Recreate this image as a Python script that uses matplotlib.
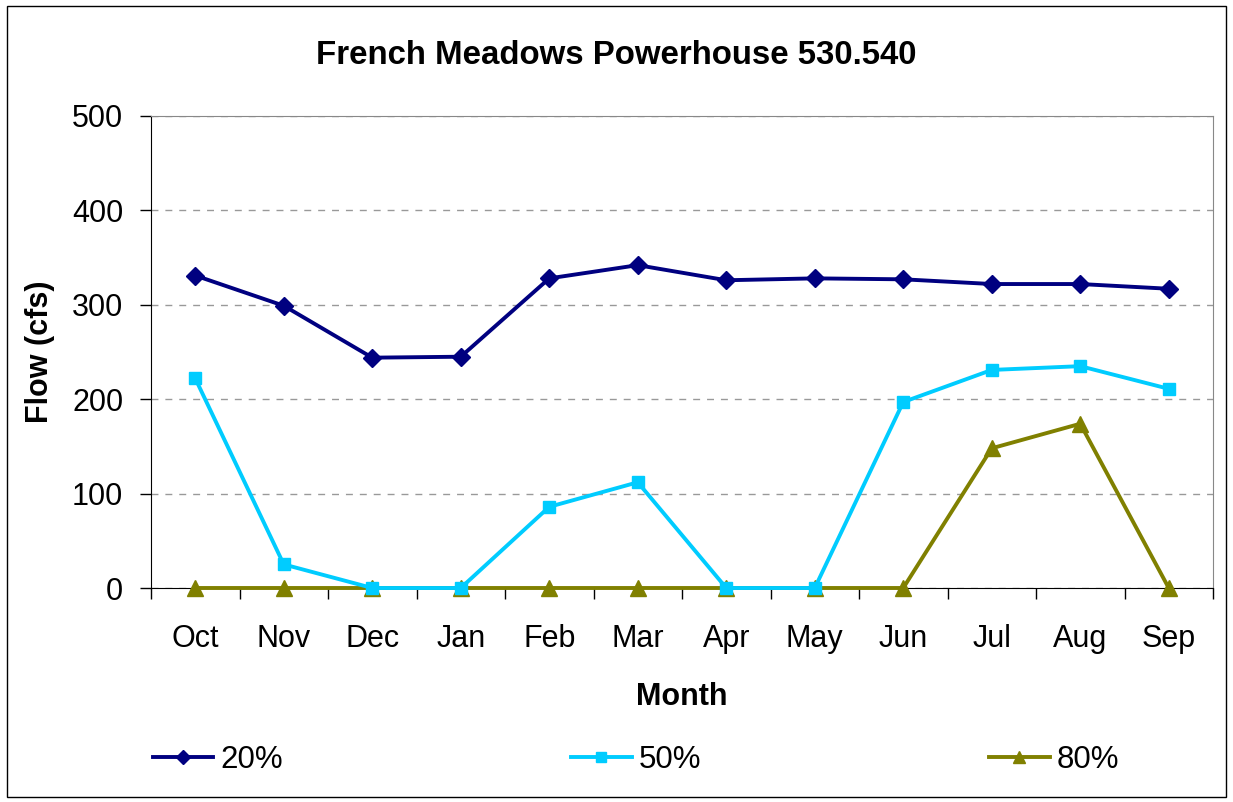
import matplotlib.pyplot as plt
from matplotlib.patches import Rectangle

plt.rcParams['font.family'] = ['Liberation Sans', 'DejaVu Sans']

# Datos de caudal mensual por excedencia
meses = ['Oct', 'Nov', 'Dec', 'Jan', 'Feb', 'Mar', 'Apr', 'May', 'Jun', 'Jul', 'Aug', 'Sep']
q20 = [331, 299, 244, 245, 328, 342, 326, 328, 327, 322, 322, 317]
q50 = [222, 25, 0, 0, 86, 112, 0, 0, 197, 231, 235, 211]
q80 = [0, 0, 0, 0, 0, 0, 0, 0, 0, 148, 174, 0]

fig = plt.figure(figsize=(12.33, 8.02), dpi=100)
ax = fig.add_axes([151 / 1233, 1 - 588 / 802, (1213 - 151) / 1233, (588 - 116) / 802])

x = range(len(meses))
ax.plot(x, q20, color='#000080', lw=2.8, marker='D', ms=9, label='20%', clip_on=False, zorder=5)
ax.plot(x, q50, color='#00CCFF', lw=2.8, marker='s', ms=9, label='50%', clip_on=False, zorder=4)
ax.plot(x, q80, color='#808000', lw=2.8, marker='^', ms=11, label='80%', clip_on=False, zorder=3)

ax.set_xlim(-0.5, len(meses) - 0.5)
ax.set_ylim(0, 500)
ax.set_yticks([0, 100, 200, 300, 400, 500])
ax.set_xticks(list(x))
ax.set_xticklabels(meses)
ax.set_xticks([i - 0.5 for i in range(len(meses) + 1)], minor=True)
ax.tick_params(axis='x', which='major', length=0, pad=26, labelsize=22)
ax.tick_params(axis='x', which='minor', length=8, width=1, direction='out')
ax.tick_params(axis='y', length=8, width=1, direction='out', pad=12, labelsize=22)

ax.grid(axis='y', color='#999999', ls=(0, (5, 5)), lw=1)
ax.set_axisbelow(True)
for s in ['top', 'right']:
    ax.spines[s].set_color('#888888')
for s in ['left', 'bottom']:
    ax.spines[s].set_color('black')

ax.set_xlabel('Month', fontsize=22, fontweight='bold', labelpad=20)
ax.set_ylabel('Flow (cfs)', fontsize=22, fontweight='bold', labelpad=12)
fig.text(0.5, 1 - 55 / 802, 'French Meadows Powerhouse 530.540', ha='center', va='center',
         fontsize=23.8, fontweight='bold')

ax.legend(loc='center', bbox_to_anchor=(636 / 1233, 1 - 760 / 802), bbox_transform=fig.transFigure,
          ncol=3, frameon=False, fontsize=22.5, handlelength=1.95, handletextpad=0.23,
          columnspacing=9.2, markerscale=0.8)

# marco exterior
fig.patches.append(Rectangle((7 / 1233, 5 / 802), 1 - 14 / 1233, 1 - 11 / 802,
                             transform=fig.transFigure, fill=False, ec='black', lw=1))

fig.savefig('out.png', dpi=100)
